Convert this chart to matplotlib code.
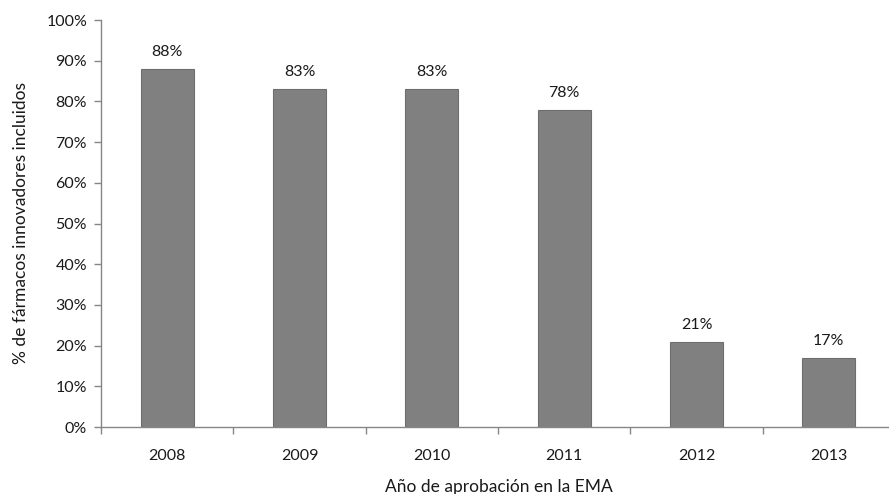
import matplotlib
matplotlib.use("Agg")
import matplotlib.pyplot as plt
from matplotlib.ticker import FuncFormatter, MultipleLocator
import numpy as np

years = ["2008", "2009", "2010", "2011", "2012", "2013"]
pct_included = [88, 83, 83, 78, 21, 17]
bar_labels = ["88%", "83%", "83%", "78%", "21%", "17%"]

plt.rcParams['font.family'] = ['Lato', 'DejaVu Sans']

fig = plt.figure(figsize=(8.89, 4.94), dpi=100)
W, H = 889, 494
ax = fig.add_axes([101 / W, (H - 427) / H, (895 - 101) / W, (427 - 20) / H])

x = np.arange(len(years))
bars = ax.bar(x, pct_included, width=0.40, color="#808080",
              edgecolor="#6e6e6e", linewidth=0.8, zorder=2)

for b, lab in zip(bars, bar_labels):
    ax.annotate(lab, (b.get_x() + b.get_width() / 2, b.get_height()),
                xytext=(0, 7), textcoords="offset points",
                ha="center", va="bottom", fontsize=11.5, color="#1a1a1a")

ax.set_xlim(-0.5, len(years) - 0.5)
ax.set_ylim(0, 100)
ax.yaxis.set_major_locator(MultipleLocator(10))
ax.yaxis.set_major_formatter(FuncFormatter(lambda v, p: f"{int(v)}%"))

# years centred under bars, ticks at the category boundaries
ax.set_xticks(x)
ax.set_xticklabels(years)
ax.set_xticks(np.arange(-0.5, len(years)), minor=True)
ax.tick_params(axis="x", which="major", length=0, pad=16,
               labelsize=11.5, labelcolor="#1a1a1a")
ax.tick_params(axis="x", which="minor", length=5, width=1, color="#868686")
ax.tick_params(axis="y", length=5, width=1, color="#868686",
               labelsize=11.5, labelcolor="#1a1a1a", pad=5)

for s in ("top", "right"):
    ax.spines[s].set_visible(False)
for s in ("left", "bottom"):
    ax.spines[s].set_color("#868686")
    ax.spines[s].set_linewidth(1)

fig.text(21 / W, 1 - 223 / H, "% de fármacos innovadores incluidos",
         rotation=90, ha="center", va="center", fontsize=12.5, color="#1a1a1a")
fig.text(499 / W, 1 - 487 / H, "Año de aprobación en la EMA", ha="center",
         va="center", fontsize=12.5, color="#1a1a1a")

fig.savefig("out.png", dpi=100)
